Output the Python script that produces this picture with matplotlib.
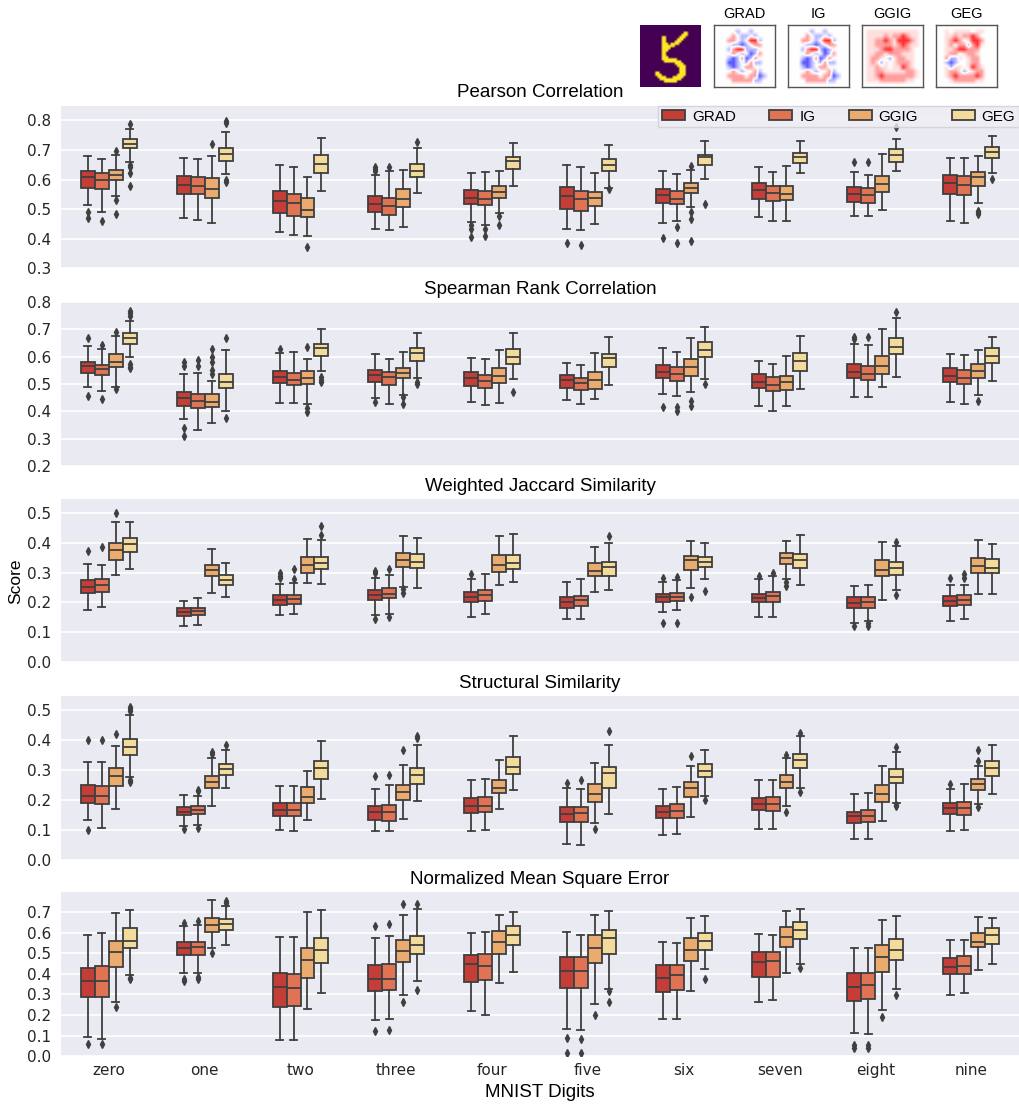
import numpy as np
import matplotlib
matplotlib.use('Agg')
import matplotlib.pyplot as plt
from matplotlib.patches import Patch

# ---------------------------------------------------------------------------
# data: box stats per metric, rows = method, cols = digit
# each entry = (whislo, q1, med, q3, whishi)
# ---------------------------------------------------------------------------
digits = ['zero', 'one', 'two', 'three', 'four', 'five', 'six', 'seven', 'eight', 'nine']
methods = ['GRAD', 'IG', 'GGIG', 'GEG']
colors = ['#c53d37', '#e07354', '#ebaa6e', '#f3dc9b']

pearson = [
    [(0.513, 0.572, 0.608, 0.628, 0.681), (0.471, 0.553, 0.583, 0.611, 0.672), (0.422, 0.486, 0.528, 0.561, 0.648),
     (0.433, 0.489, 0.517, 0.544, 0.614), (0.458, 0.519, 0.539, 0.564, 0.624), (0.433, 0.502, 0.544, 0.576, 0.648),
     (0.453, 0.522, 0.548, 0.569, 0.628), (0.472, 0.536, 0.564, 0.589, 0.644), (0.476, 0.524, 0.552, 0.576, 0.627),
     (0.461, 0.552, 0.589, 0.616, 0.674)],
    [(0.492, 0.567, 0.598, 0.622, 0.670), (0.464, 0.550, 0.580, 0.608, 0.669), (0.414, 0.476, 0.522, 0.550, 0.642),
     (0.429, 0.479, 0.511, 0.539, 0.628), (0.448, 0.513, 0.536, 0.561, 0.626), (0.428, 0.494, 0.536, 0.563, 0.644),
     (0.459, 0.519, 0.533, 0.561, 0.619), (0.459, 0.528, 0.556, 0.577, 0.627), (0.477, 0.522, 0.548, 0.571, 0.616),
     (0.454, 0.547, 0.581, 0.611, 0.672)],
    [(0.544, 0.598, 0.614, 0.633, 0.682), (0.452, 0.539, 0.567, 0.604, 0.681), (0.409, 0.474, 0.498, 0.538, 0.608),
     (0.441, 0.506, 0.533, 0.567, 0.632), (0.486, 0.539, 0.558, 0.578, 0.628), (0.450, 0.511, 0.539, 0.558, 0.624),
     (0.506, 0.554, 0.572, 0.589, 0.631), (0.459, 0.530, 0.550, 0.578, 0.647), (0.497, 0.558, 0.586, 0.611, 0.686),
     (0.522, 0.577, 0.609, 0.627, 0.681)],
    [(0.661, 0.706, 0.719, 0.736, 0.771), (0.619, 0.664, 0.686, 0.706, 0.761), (0.560, 0.624, 0.652, 0.683, 0.741),
     (0.556, 0.609, 0.630, 0.653, 0.708), (0.578, 0.637, 0.662, 0.678, 0.724), (0.572, 0.630, 0.650, 0.670, 0.717),
     (0.603, 0.650, 0.676, 0.683, 0.731), (0.624, 0.656, 0.676, 0.691, 0.730), (0.629, 0.660, 0.683, 0.703, 0.738),
     (0.622, 0.672, 0.692, 0.710, 0.748)],
]
pearson_fliers = [
    [[0.491, 0.469], [], [], [0.644, 0.637, 0.630], [0.447, 0.433, 0.406], [0.387], [0.402], [], [0.660], []],
    [[0.461], [], [], [0.643], [0.433, 0.409], [0.378], [0.439, 0.386], [], [0.660], []],
    [[0.697, 0.530, 0.483], [0.720], [0.372], [], [0.478, 0.447], [], [0.647, 0.492, 0.467, 0.391], [], [],
     [0.494, 0.489, 0.483]],
    [[0.787, 0.648, 0.642, 0.621, 0.578], [0.797, 0.792, 0.598, 0.592], [], [0.728], [], [0.567], [0.519], [],
     [0.777], [0.603]],
]

spearman = [
    [(0.488, 0.539, 0.566, 0.582, 0.639), (0.372, 0.421, 0.448, 0.472, 0.537), (0.432, 0.502, 0.524, 0.548, 0.612),
     (0.448, 0.506, 0.533, 0.551, 0.611), (0.435, 0.493, 0.521, 0.545, 0.596), (0.440, 0.484, 0.513, 0.532, 0.576),
     (0.462, 0.521, 0.545, 0.568, 0.633), (0.421, 0.484, 0.509, 0.537, 0.583), (0.454, 0.523, 0.543, 0.572, 0.646),
     (0.435, 0.506, 0.530, 0.557, 0.609)],
    [(0.474, 0.533, 0.555, 0.570, 0.627), (0.332, 0.411, 0.438, 0.465, 0.539), (0.429, 0.496, 0.516, 0.539, 0.616),
     (0.427, 0.496, 0.527, 0.543, 0.591), (0.423, 0.484, 0.512, 0.533, 0.590), (0.427, 0.478, 0.502, 0.523, 0.571),
     (0.456, 0.512, 0.537, 0.561, 0.618), (0.401, 0.473, 0.496, 0.526, 0.573), (0.451, 0.513, 0.535, 0.567, 0.641),
     (0.426, 0.499, 0.521, 0.552, 0.606)],
    [(0.490, 0.562, 0.582, 0.609, 0.674), (0.359, 0.416, 0.433, 0.462, 0.512), (0.426, 0.500, 0.521, 0.548, 0.591),
     (0.460, 0.521, 0.539, 0.560, 0.618), (0.429, 0.505, 0.529, 0.557, 0.624), (0.445, 0.483, 0.515, 0.544, 0.612),
     (0.470, 0.530, 0.562, 0.590, 0.667), (0.418, 0.477, 0.507, 0.528, 0.604), (0.490, 0.538, 0.566, 0.604, 0.702),
     (0.459, 0.522, 0.548, 0.573, 0.626)],
    [(0.598, 0.646, 0.667, 0.685, 0.729), (0.401, 0.484, 0.506, 0.538, 0.623), (0.548, 0.601, 0.630, 0.648, 0.701),
     (0.521, 0.585, 0.612, 0.630, 0.688), (0.517, 0.573, 0.598, 0.627, 0.688), (0.495, 0.562, 0.594, 0.610, 0.672),
     (0.517, 0.598, 0.623, 0.654, 0.710), (0.480, 0.549, 0.584, 0.612, 0.677), (0.527, 0.610, 0.637, 0.670, 0.740),
     (0.512, 0.576, 0.602, 0.632, 0.673)],
]
spearman_fliers = [
    [[0.667, 0.456], [0.582, 0.566, 0.338, 0.311], [0.628], [0.435], [], [], [0.417], [], [0.673, 0.663], []],
    [[0.643, 0.444], [0.588, 0.567], [], [], [], [], [0.415, 0.402], [], [0.672], []],
    [[0.691, 0.480], [0.628, 0.600, 0.582, 0.551, 0.537], [0.634, 0.411, 0.399], [0.451, 0.427], [], [],
     [0.438, 0.420], [], [], [0.439]],
    [[0.767, 0.759, 0.750, 0.573, 0.563, 0.557], [0.667, 0.374], [0.527, 0.515, 0.506], [0.509, 0.499], [0.470],
     [], [0.499], [], [0.765], []],
]

jaccard = [
    [(0.176, 0.232, 0.253, 0.276, 0.328), (0.122, 0.154, 0.169, 0.180, 0.206), (0.159, 0.192, 0.209, 0.224, 0.261),
     (0.158, 0.208, 0.224, 0.241, 0.282), (0.153, 0.200, 0.219, 0.236, 0.280), (0.144, 0.181, 0.202, 0.219, 0.268),
     (0.169, 0.202, 0.217, 0.227, 0.269), (0.150, 0.200, 0.214, 0.230, 0.280), (0.133, 0.181, 0.198, 0.217, 0.254),
     (0.139, 0.187, 0.204, 0.222, 0.258)],
    [(0.186, 0.236, 0.258, 0.278, 0.326), (0.124, 0.159, 0.172, 0.183, 0.216), (0.163, 0.196, 0.211, 0.226, 0.266),
     (0.161, 0.214, 0.230, 0.247, 0.293), (0.160, 0.204, 0.224, 0.241, 0.294), (0.144, 0.187, 0.207, 0.222, 0.277),
     (0.176, 0.204, 0.219, 0.232, 0.274), (0.153, 0.202, 0.222, 0.236, 0.287), (0.137, 0.183, 0.200, 0.217, 0.259),
     (0.144, 0.190, 0.209, 0.224, 0.257)],
    [(0.292, 0.341, 0.377, 0.400, 0.469), (0.232, 0.289, 0.309, 0.327, 0.379), (0.264, 0.300, 0.327, 0.352, 0.411),
     (0.252, 0.319, 0.341, 0.364, 0.422), (0.258, 0.303, 0.324, 0.359, 0.422), (0.236, 0.287, 0.306, 0.333, 0.386),
     (0.250, 0.309, 0.342, 0.356, 0.406), (0.280, 0.329, 0.348, 0.367, 0.406), (0.207, 0.287, 0.309, 0.342, 0.403),
     (0.230, 0.298, 0.322, 0.349, 0.408)],
    [(0.312, 0.370, 0.394, 0.416, 0.469), (0.218, 0.260, 0.276, 0.293, 0.333), (0.263, 0.313, 0.331, 0.353, 0.409),
     (0.249, 0.316, 0.337, 0.363, 0.414), (0.270, 0.313, 0.333, 0.360, 0.430), (0.243, 0.287, 0.320, 0.337, 0.398),
     (0.278, 0.317, 0.336, 0.353, 0.398), (0.257, 0.314, 0.342, 0.363, 0.426), (0.242, 0.292, 0.314, 0.336, 0.389),
     (0.230, 0.297, 0.314, 0.347, 0.397)],
]
jaccard_fliers = [
    [[0.371], [], [0.298, 0.289, 0.282], [0.306, 0.300, 0.144], [0.294], [], [0.282, 0.130], [0.287], [0.122],
     [0.281]],
    [[0.387], [], [0.313, 0.280], [0.313, 0.150], [], [], [0.286, 0.131], [0.298], [0.130, 0.122], [0.294, 0.283]],
    [[0.500], [], [], [0.244, 0.233], [], [], [0.220], [0.267, 0.256], [], []],
    [[], [], [0.456, 0.424], [], [], [0.422], [0.237], [], [0.403, 0.224], []],
]

ssim = [
    [(0.135, 0.190, 0.215, 0.249, 0.327), (0.114, 0.149, 0.162, 0.177, 0.217), (0.099, 0.146, 0.166, 0.190, 0.246),
     (0.096, 0.135, 0.162, 0.179, 0.238), (0.098, 0.157, 0.179, 0.207, 0.266), (0.053, 0.126, 0.155, 0.176, 0.239),
     (0.084, 0.140, 0.161, 0.182, 0.238), (0.103, 0.166, 0.187, 0.207, 0.268), (0.070, 0.123, 0.146, 0.162, 0.220),
     (0.096, 0.153, 0.174, 0.190, 0.237)],
    [(0.107, 0.187, 0.215, 0.246, 0.327), (0.117, 0.155, 0.166, 0.182, 0.215), (0.097, 0.146, 0.166, 0.190, 0.246),
     (0.096, 0.131, 0.162, 0.185, 0.250), (0.101, 0.162, 0.182, 0.209, 0.270), (0.051, 0.126, 0.157, 0.177, 0.236),
     (0.087, 0.140, 0.164, 0.186, 0.243), (0.104, 0.165, 0.188, 0.210, 0.268), (0.071, 0.127, 0.148, 0.168, 0.224),
     (0.101, 0.149, 0.174, 0.194, 0.255)],
    [(0.170, 0.248, 0.282, 0.306, 0.380), (0.181, 0.239, 0.259, 0.282, 0.341), (0.135, 0.190, 0.210, 0.244, 0.299),
     (0.138, 0.199, 0.226, 0.252, 0.318), (0.170, 0.224, 0.239, 0.267, 0.335), (0.123, 0.195, 0.221, 0.254, 0.324),
     (0.143, 0.210, 0.240, 0.262, 0.313), (0.182, 0.242, 0.260, 0.283, 0.341), (0.129, 0.194, 0.221, 0.249, 0.313),
     (0.187, 0.235, 0.254, 0.270, 0.315)],
    [(0.276, 0.352, 0.377, 0.404, 0.483), (0.239, 0.284, 0.304, 0.321, 0.366), (0.205, 0.270, 0.306, 0.332, 0.396),
     (0.196, 0.254, 0.284, 0.309, 0.383), (0.235, 0.288, 0.311, 0.345, 0.415), (0.155, 0.239, 0.291, 0.311, 0.385),
     (0.215, 0.276, 0.299, 0.321, 0.366), (0.242, 0.308, 0.333, 0.355, 0.413), (0.190, 0.257, 0.277, 0.304, 0.361),
     (0.221, 0.282, 0.306, 0.330, 0.383)],
]
ssim_fliers = [
    [[0.402, 0.101], [0.103], [], [0.282], [], [0.257], [], [], [], [0.254]],
    [[0.402], [0.235, 0.229, 0.106], [], [0.285], [], [0.266], [], [], [], []],
    [[0.421], [0.361, 0.354], [], [0.369], [], [0.103], [0.348], [0.352, 0.162], [], [0.366, 0.330, 0.177]],
    [[0.511, 0.504, 0.497, 0.268, 0.260], [0.383], [], [0.416, 0.408], [], [0.430], [0.201], [0.426, 0.227],
     [0.377, 0.185, 0.179], []],
]

nmse = [
    [(0.093, 0.287, 0.365, 0.427, 0.590), (0.402, 0.492, 0.524, 0.552, 0.630), (0.077, 0.239, 0.336, 0.406, 0.577),
     (0.178, 0.316, 0.373, 0.441, 0.573), (0.218, 0.360, 0.446, 0.492, 0.598), (0.132, 0.332, 0.414, 0.479, 0.604),
     (0.181, 0.313, 0.381, 0.441, 0.552), (0.262, 0.386, 0.458, 0.507, 0.593), (0.111, 0.270, 0.337, 0.402, 0.523),
     (0.296, 0.397, 0.435, 0.477, 0.564)],
    [(0.085, 0.287, 0.365, 0.438, 0.598), (0.402, 0.492, 0.528, 0.555, 0.638), (0.077, 0.243, 0.332, 0.401, 0.580),
     (0.181, 0.319, 0.373, 0.446, 0.581), (0.202, 0.370, 0.438, 0.495, 0.601), (0.127, 0.332, 0.414, 0.479, 0.588),
     (0.181, 0.321, 0.393, 0.445, 0.549), (0.272, 0.386, 0.463, 0.507, 0.590), (0.107, 0.278, 0.344, 0.402, 0.523),
     (0.305, 0.397, 0.438, 0.484, 0.564)],
    [(0.262, 0.435, 0.507, 0.560, 0.694), (0.523, 0.604, 0.638, 0.669, 0.759), (0.230, 0.381, 0.466, 0.523, 0.699),
     (0.296, 0.458, 0.511, 0.564, 0.686), (0.353, 0.495, 0.555, 0.609, 0.687), (0.254, 0.451, 0.523, 0.590, 0.687),
     (0.316, 0.463, 0.516, 0.573, 0.669), (0.406, 0.528, 0.580, 0.629, 0.702), (0.226, 0.410, 0.479, 0.541, 0.663),
     (0.419, 0.528, 0.555, 0.599, 0.674)],
    [(0.393, 0.524, 0.560, 0.620, 0.710), (0.539, 0.614, 0.642, 0.666, 0.728), (0.308, 0.451, 0.516, 0.572, 0.710),
     (0.365, 0.495, 0.541, 0.585, 0.715), (0.410, 0.539, 0.590, 0.632, 0.699), (0.327, 0.495, 0.572, 0.614, 0.704),
     (0.422, 0.516, 0.557, 0.596, 0.679), (0.446, 0.568, 0.612, 0.650, 0.712), (0.324, 0.466, 0.516, 0.567, 0.679),
     (0.446, 0.544, 0.588, 0.622, 0.669)],
]
nmse_fliers = [
    [[0.059], [0.647, 0.376, 0.365], [], [0.634, 0.121], [], [0.088, 0.015], [], [], [0.055, 0.039], []],
    [[0.059], [0.658, 0.384, 0.376], [], [0.642, 0.129], [], [0.085, 0.015], [], [], [0.055, 0.039], []],
    [[0.238], [0.500], [], [0.736, 0.262], [], [0.199], [], [], [0.191], []],
    [[0.381, 0.373], [0.752, 0.744], [], [0.739, 0.321], [], [0.316, 0.264], [0.373], [0.430], [0.295], []],
]

titles = ['Pearson Correlation', 'Spearman Rank Correlation', 'Weighted Jaccard Similarity',
          'Structural Similarity', 'Normalized Mean Square Error']
ylims = [(0.3, 0.85), (0.2, 0.8), (0.0, 0.545), (0.0, 0.548), (0.0, 0.795)]
yticks = [np.arange(0.3, 0.81, 0.1), np.arange(0.2, 0.81, 0.1), np.arange(0.0, 0.51, 0.1),
          np.arange(0.0, 0.51, 0.1), np.arange(0.0, 0.71, 0.1)]

# example input (a handwritten five, 28x28) and attribution maps (coarse 14x14)
digit_rows = [
    "............................",
    "............................",
    "............................",
    "....................##......",
    "...................###......",
    "..........##......###.......",
    "..........##.....###........",
    "..........##....###.........",
    "..........###.####..........",
    "..........######............",
    "..........####..............",
    "..........###...............",
    "..........##................",
    "..........##................",
    "..........###...............",
    "..........#######...........",
    "...........########.........",
    "................####........",
    ".................####.......",
    "..................###.......",
    "..................###.......",
    ".......##.........###.......",
    ".......###.......####.......",
    "........####...#####........",
    ".........##########.........",
    "...........######...........",
    "............................",
    "............................",
]
attr_grad = [
    "..............",
    ".....b..b.....",
    "....r.bb.b....",
    "...rr.b.RRb...",
    "....bbBb.rr...",
    "...brRRbbb....",
    "....r.b.Bbr...",
    "...bBbrBbr....",
    "...BBb.brbb...",
    "...bBb.rr.....",
    "....r.b..rb...",
    "...rrrr.rrBb..",
    "....rrrrrbb...",
    "..............",
]
attr_ig = [
    "..............",
    ".....b..b.....",
    "....r.bb.b....",
    "...rr.b.RRb...",
    "....bbBb.rr...",
    "...brRRbBb....",
    "....r.b.Bbr...",
    "...bBbrBbr....",
    "...BBb.brbb...",
    "...bBb.rr.....",
    "....r.b..rb...",
    "...rrrr.rrBb..",
    "....rrrrrbb...",
    "..............",
]
attr_ggig = [
    "..............",
    ".pppppppppppp.",
    ".pppprprrRrpp.",
    ".pprrRrpRRRrp.",
    ".pprrrrprRrpp.",
    ".ppprRRrrrrp..",
    ".pprrprrrppp..",
    ".prrp.bprrpp..",
    ".prpbp.prrrp..",
    ".pprpp.ppRrp..",
    ".pprrppppprrp.",
    ".pprRrrrrrrrp.",
    ".ppprrrrrrpp..",
    "..............",
]
attr_geg = [
    "..............",
    "..p.pppp.pp...",
    "..pprprrRr....",
    "..prRr.pRRr...",
    "..pr.rrbrRp...",
    "..pprRRrrr....",
    "..prr.prrp....",
    "..rbbp.prr....",
    "..bBb..prr....",
    "..pbpp.pRrp...",
    "..prrpb.prr...",
    "..prRrrrrRr...",
    "...prrrrrpp...",
    "..............",
]
char_val = {'.': 0.0, 'p': 0.13, 'r': 0.38, 'R': 0.8, 'b': -0.28, 'B': -0.65, '#': 1.0}


def grid(rows):
    n = max(len(r) for r in rows)
    return np.array([[char_val[c] for c in r.ljust(n, '.')] for r in rows])


plt.rcParams['font.family'] = ['DejaVu Sans']
edge = '#3f3f3f'
axfont = 'Liberation Sans'

fig = plt.figure(figsize=(10.2, 11.07), dpi=100)

W, H = 1020.0, 1107.0
left = 61 / W
width = 958 / W
panel_px = [(105.7, 268.3), (302, 466), (499.3, 662.3), (696, 860), (892.3, 1056.3)]

all_data = [(pearson, pearson_fliers), (spearman, spearman_fliers), (jaccard, jaccard_fliers),
            (ssim, ssim_fliers), (nmse, nmse_fliers)]

offsets = [-0.219, -0.073, 0.073, 0.219]
bw = 0.146

axes = []
for k, ((boxes, fliers), (top, bot)) in enumerate(zip(all_data, panel_px)):
    ax = fig.add_axes([left, 1 - bot / H, width, (bot - top) / H])
    ax.set_facecolor('#eaeaf2')
    for s in ax.spines.values():
        s.set_visible(False)
    ax.set_axisbelow(True)
    ax.grid(axis='y', color='white', linewidth=1.2)

    for m in range(4):
        stats = []
        for d in range(10):
            lo, q1, med, q3, hi = boxes[m][d]
            stats.append(dict(whislo=lo, q1=q1, med=med, q3=q3, whishi=hi, fliers=fliers[m][d]))
        pos = np.arange(10) + offsets[m]
        ax.bxp(stats, positions=pos, widths=bw, capwidths=bw / 2, patch_artist=True, manage_ticks=False,
               boxprops=dict(facecolor=colors[m], edgecolor=edge, linewidth=1.3),
               medianprops=dict(color=edge, linewidth=1.3),
               whiskerprops=dict(color=edge, linewidth=1.3),
               capprops=dict(color=edge, linewidth=1.3),
               flierprops=dict(marker='d', markerfacecolor=edge, markeredgecolor=edge, markersize=4))

    ax.set_xlim(-0.5, 9.5)
    ax.set_ylim(*ylims[k])
    ax.set_yticks(yticks[k])
    ax.set_yticklabels(['%.1f' % v for v in yticks[k]])
    ax.tick_params(axis='y', length=0, pad=7, labelsize=11, labelcolor='#262626')
    ax.set_title(titles[k], fontsize=13.5, family=axfont, pad=6)
    if k == 4:
        ax.set_xticks(np.arange(10))
        ax.set_xticklabels(digits)
        ax.tick_params(axis='x', length=0, pad=5, labelsize=11, labelcolor='#262626')
        ax.set_xlabel('MNIST Digits', fontsize=13.5, family=axfont, labelpad=4)
    else:
        ax.set_xticks([])
    if k == 2:
        ax.set_ylabel('Score', fontsize=12.5, family=axfont, labelpad=3)
    axes.append(ax)

handles = [Patch(facecolor=c, edgecolor=edge, linewidth=1.3) for c in colors]
leg = axes[0].legend(handles, methods, loc='upper right', bbox_to_anchor=(1.0, 1.0), ncol=4, frameon=True,
                     borderaxespad=0.0, prop={'family': axfont, 'size': 11}, handlelength=1.5,
                     handleheight=0.6, handletextpad=0.45, columnspacing=2.2, borderpad=0.25,
                     fancybox=False)
leg.get_frame().set_facecolor('#eeeef4')
leg.get_frame().set_edgecolor('#cfcfd4')

# example images at the top right
img_x = [640, 714, 788, 862, 936]
img_w, img_top, img_bot = 61, 25, 87
maps = [grid(digit_rows), grid(attr_grad), grid(attr_ig), grid(attr_ggig), grid(attr_geg)]
names = [None, 'GRAD', 'IG', 'GGIG', 'GEG']
for i, (x0, mp, nm) in enumerate(zip(img_x, maps, names)):
    iax = fig.add_axes([x0 / W, 1 - img_bot / H, img_w / W, (img_bot - img_top) / H])
    if i == 0:
        iax.imshow(mp, cmap='viridis', vmin=0, vmax=1, interpolation='bilinear', aspect='auto')
        for s in iax.spines.values():
            s.set_visible(False)
    else:
        iax.imshow(mp, cmap='bwr', vmin=-1, vmax=1, interpolation='bilinear', aspect='auto')
        for s in iax.spines.values():
            s.set_color('#555555')
            s.set_linewidth(1.0)
        iax.set_title(nm, fontsize=10.5, family=axfont, pad=5)
    iax.set_xticks([])
    iax.set_yticks([])

fig.savefig('out.png', dpi=100)
